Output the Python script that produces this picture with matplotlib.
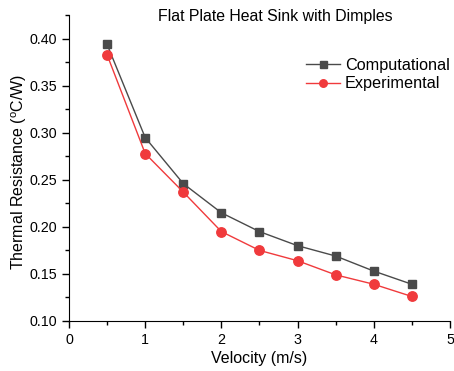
import matplotlib
matplotlib.use("Agg")
import matplotlib.pyplot as plt
from matplotlib.ticker import MultipleLocator, FormatStrFormatter

plt.rcParams['font.family'] = ['Liberation Sans', 'DejaVu Sans']
plt.rcParams['mathtext.fontset'] = 'custom'
plt.rcParams['mathtext.rm'] = 'Liberation Sans'

# data
velocity = [0.5, 1.0, 1.5, 2.0, 2.5, 3.0, 3.5, 4.0, 4.5]
computational = [0.394, 0.295, 0.246, 0.215, 0.195, 0.180, 0.169, 0.153, 0.139]
experimental = [0.383, 0.278, 0.237, 0.195, 0.175, 0.164, 0.149, 0.139, 0.126]

fig = plt.figure(figsize=(4.54, 3.71), dpi=100)
ax = fig.add_axes([0.152, 0.135, 0.839, 0.825])

ax.plot(velocity, computational, color='#4a4a4a', marker='s', markersize=6.3,
        linewidth=1.0, label='Computational')
ax.plot(velocity, experimental, color='#f03a3c', marker='o', markersize=6.8,
        linewidth=1.0, label='Experimental')

ax.set_xlim(0, 5)
ax.set_ylim(0.10, 0.4255)
ax.xaxis.set_major_locator(MultipleLocator(1))
ax.xaxis.set_minor_locator(MultipleLocator(0.5))
ax.yaxis.set_major_locator(MultipleLocator(0.05))
ax.yaxis.set_minor_locator(MultipleLocator(0.025))
ax.yaxis.set_major_formatter(FormatStrFormatter('%.2f'))

for s in ['top', 'right']:
    ax.spines[s].set_visible(False)
ax.tick_params(which='major', direction='out', length=5, width=1, labelsize=10.3)
ax.tick_params(which='minor', direction='out', length=3, width=1)

ax.set_xlabel('Velocity (m/s)', fontsize=11.5, labelpad=3)
ax.set_ylabel(r'Thermal Resistance ($\mathrm{^{o}}$C/W)', fontsize=11.5)
ax.yaxis.set_label_coords(-0.106, 0.487)

fig.text(0.606, 0.955, 'Flat Plate Heat Sink with Dimples', fontsize=11.4,
         ha='center', va='center')

ax.legend(loc='upper left', bbox_to_anchor=(0.605, 0.88), frameon=False,
          fontsize=11.7, handlelength=2.1, handletextpad=0.3, labelspacing=0.2,
          borderaxespad=0, markerscale=0.8)

plt.savefig('out.png', dpi=100)
